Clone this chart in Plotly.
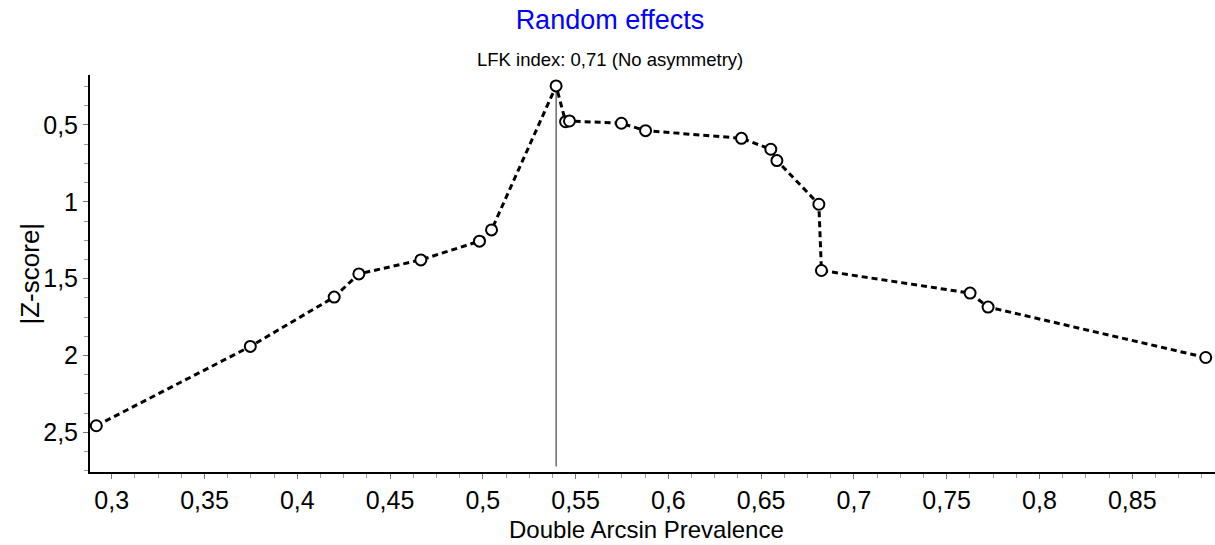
import plotly.graph_objects as go

# Data (Doi plot)
x_values = [0.2917, 0.3747, 0.4199, 0.4332, 0.4666, 0.4982, 0.5047, 0.5395,
            0.5446, 0.5467, 0.5747, 0.5877, 0.6394, 0.6552, 0.6585, 0.6811,
            0.6825, 0.7626, 0.7723, 0.8896]
z_values = [2.457, 1.941, 1.620, 1.469, 1.378, 1.256, 1.183, 0.246,
            0.479, 0.474, 0.489, 0.537, 0.587, 0.658, 0.732, 1.016,
            1.447, 1.594, 1.685, 2.013]
ref_line_x = 0.5395
ref_line_z = [0.246, 2.722]

x_tick_vals = [0.3, 0.35, 0.4, 0.45, 0.5, 0.55, 0.6, 0.65, 0.7, 0.75, 0.8, 0.85]
x_tick_text = ["0,3", "0,35", "0,4", "0,45", "0,5", "0,55", "0,6", "0,65", "0,7", "0,75", "0,8", "0,85"]
y_tick_vals = [0.5, 1, 1.5, 2, 2.5]
y_tick_text = ["0,5", "1", "1,5", "2", "2,5"]

title_text = "Random effects"
subtitle_text = "LFK index: 0,71 (No asymmetry)"
x_title = "Double Arcsin Prevalence"
y_title = "|Z-score|"

FONT = "Liberation Sans, Arial, sans-serif"

fig = go.Figure()
fig.add_trace(go.Scatter(
    x=[ref_line_x, ref_line_x], y=ref_line_z, mode="lines",
    line=dict(color="#222222", width=1), hoverinfo="skip", showlegend=False))
fig.add_trace(go.Scatter(
    x=x_values, y=z_values, mode="lines+markers",
    line=dict(color="black", width=3, dash="6px,4px"),
    marker=dict(symbol="circle", size=11, color="white",
                line=dict(color="black", width=2)),
    showlegend=False))

axis_common = dict(
    showline=True, linecolor="black", linewidth=2, mirror=False,
    showgrid=False, zeroline=False,
    ticks="outside", ticklen=5, tickwidth=1, tickcolor="#777777",
    tickfont=dict(family=FONT, size=25, color="black"),
)

fig.update_xaxes(
    range=[0.2883, 0.8946], tickmode="array", tickvals=x_tick_vals, ticktext=x_tick_text,
    minor=dict(ticks="outside", ticklen=4, tickcolor="#999999", dtick=0.0125, tick0=0, showgrid=False),
    **axis_common)
fig.update_yaxes(
    range=[2.758, 0.175], tickmode="array", tickvals=y_tick_vals, ticktext=y_tick_text,
    minor=dict(ticks="outside", ticklen=4, tickcolor="#999999", dtick=0.125, tick0=0, showgrid=False),
    **axis_common)

fig.update_layout(
    width=1215, height=545,
    margin=dict(l=90, r=0, t=75, b=73),
    paper_bgcolor="white", plot_bgcolor="white",
    title=dict(text=title_text, x=0.502, xref="container", xanchor="center",
               y=1 - 20 / 545, yref="container", yanchor="middle",
               font=dict(family=FONT, size=27, color="#0000FF")),
    annotations=[
        dict(text=subtitle_text, xref="paper", yref="paper", x=0.4622, y=1.0378,
             xanchor="center", yanchor="middle", showarrow=False,
             font=dict(family=FONT, size=18.5, color="black")),
        dict(text=x_title, xref="paper", yref="paper", x=0.495, y=-0.1436,
             xanchor="center", yanchor="middle", showarrow=False,
             font=dict(family=FONT, size=24, color="black")),
        dict(text=y_title, xref="paper", yref="paper", x=-0.0542, y=0.5,
             xanchor="center", yanchor="middle", showarrow=False, textangle=-90,
             font=dict(family=FONT, size=26, color="black")),
    ],
)

fig.write_html("out.html")
